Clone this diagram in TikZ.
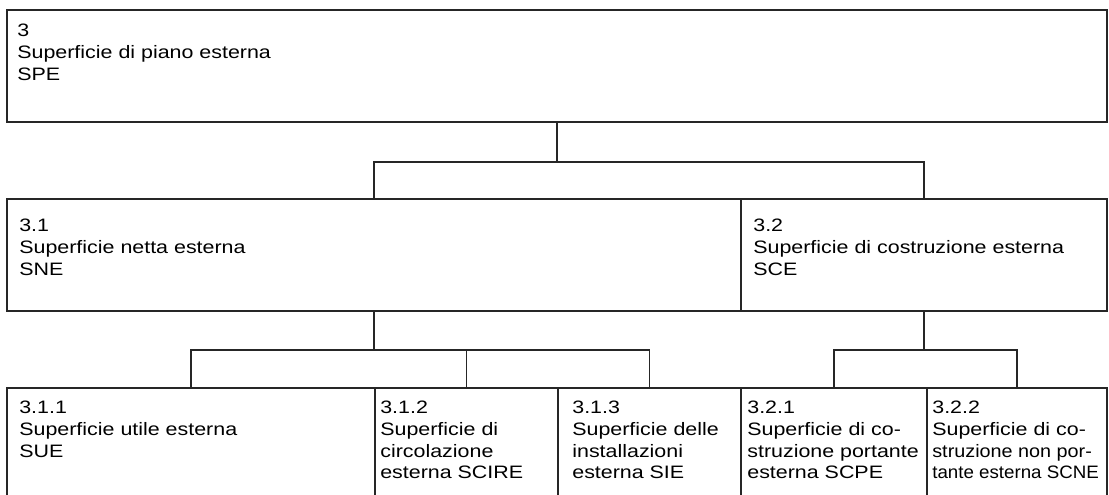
\documentclass[tikz,border=0pt]{standalone}
\usepackage{fontspec}
\setmainfont{Liberation Sans}[FakeStretch=1.19]
\newfontfamily\narrowsans{Liberation Sans}[FakeStretch=1.1]
\newfontfamily\tightsans{Liberation Sans}[FakeStretch=1.04]
\usetikzlibrary{fit}
\begin{document}
\begin{tikzpicture}[x=0.75pt, y=-0.75pt,
  frame/.style={rectangle, draw=black!85, line width=1.4pt, inner sep=0pt},
  wire/.style={draw=black!85, line width=1.3pt},
  boxtext/.style={anchor=north west, inner sep=0pt, align=left,
    font=\fontsize{13.5pt}{16.2pt}\selectfont}]
\useasboundingbox (0,0) rectangle (1109,494);
\clip (0,0) rectangle (1109,494);

% level 0
\node[frame, fit={(7,10)(1107,122)}] (spe) {};
% level 1
\node[frame, fit={(7,199)(741,311)}] (sne) {};
\node[frame, fit={(741,199)(1107,311)}] (sce) {};
% level 2 (cut off at the lower edge)
\node[frame, fit={(7,388)(375,520)}] (sue) {};
\node[frame, fit={(375,388)(558,520)}] (scire) {};
\node[frame, fit={(558,388)(741,520)}] (sie) {};
\node[frame, fit={(741,388)(927,520)}] (scpe) {};
\node[frame, fit={(927,388)(1107,520)}] (scne) {};

% texts
\node[boxtext] (spe-t) at ([shift={(11,15)}]spe.north west) {3\\Superficie di piano esterna\\SPE};
\node[boxtext] (sne-t) at ([shift={(13,21)}]sne.north west) {3.1\\Superficie netta esterna\\SNE};
\node[boxtext] (sce-t) at ([shift={(13,21)}]sce.north west) {3.2\\Superficie di costruzione esterna\\SCE};
\node[boxtext] (sue-t) at ([shift={(13,14)}]sue.north west) {3.1.1\\Superficie utile esterna\\SUE};
\node[boxtext] (scire-t) at ([shift={(6,14)}]scire.north west) {3.1.2\\Superficie di\\circolazione\\esterna SCIRE};
\node[boxtext] (sie-t) at ([shift={(15,14)}]sie.north west) {3.1.3\\Superficie delle\\installazioni\\esterna SIE};
\node[boxtext] (scpe-t) at ([shift={(7,14)}]scpe.north west) {3.2.1\\Superficie di co-\\struzione portante\\esterna SCPE};
\node[boxtext] (scne-t) at ([shift={(6,14)}]scne.north west) {3.2.2\\Superficie di co-\\{\narrowsans struzione non por-}\\{\tightsans tante esterna SCNE}};

% connectors
\draw[wire] (spe.south) -- ++(0,39) coordinate (bus0);
\draw[wire] (sne.north) |- (bus0) -| (sce.north);
\draw[wire] (sne.south) -- ++(0,38) coordinate (bus1);
\draw[wire] (sue.north) |- (bus1) -| (sie.north);
\draw[wire] (scire.north) -- (scire.north |- bus1);
\draw[wire] (sce.south) -- ++(0,38) coordinate (bus2);
\draw[wire] (scpe.north) |- (bus2) -| (scne.north);
\end{tikzpicture}
\end{document}
